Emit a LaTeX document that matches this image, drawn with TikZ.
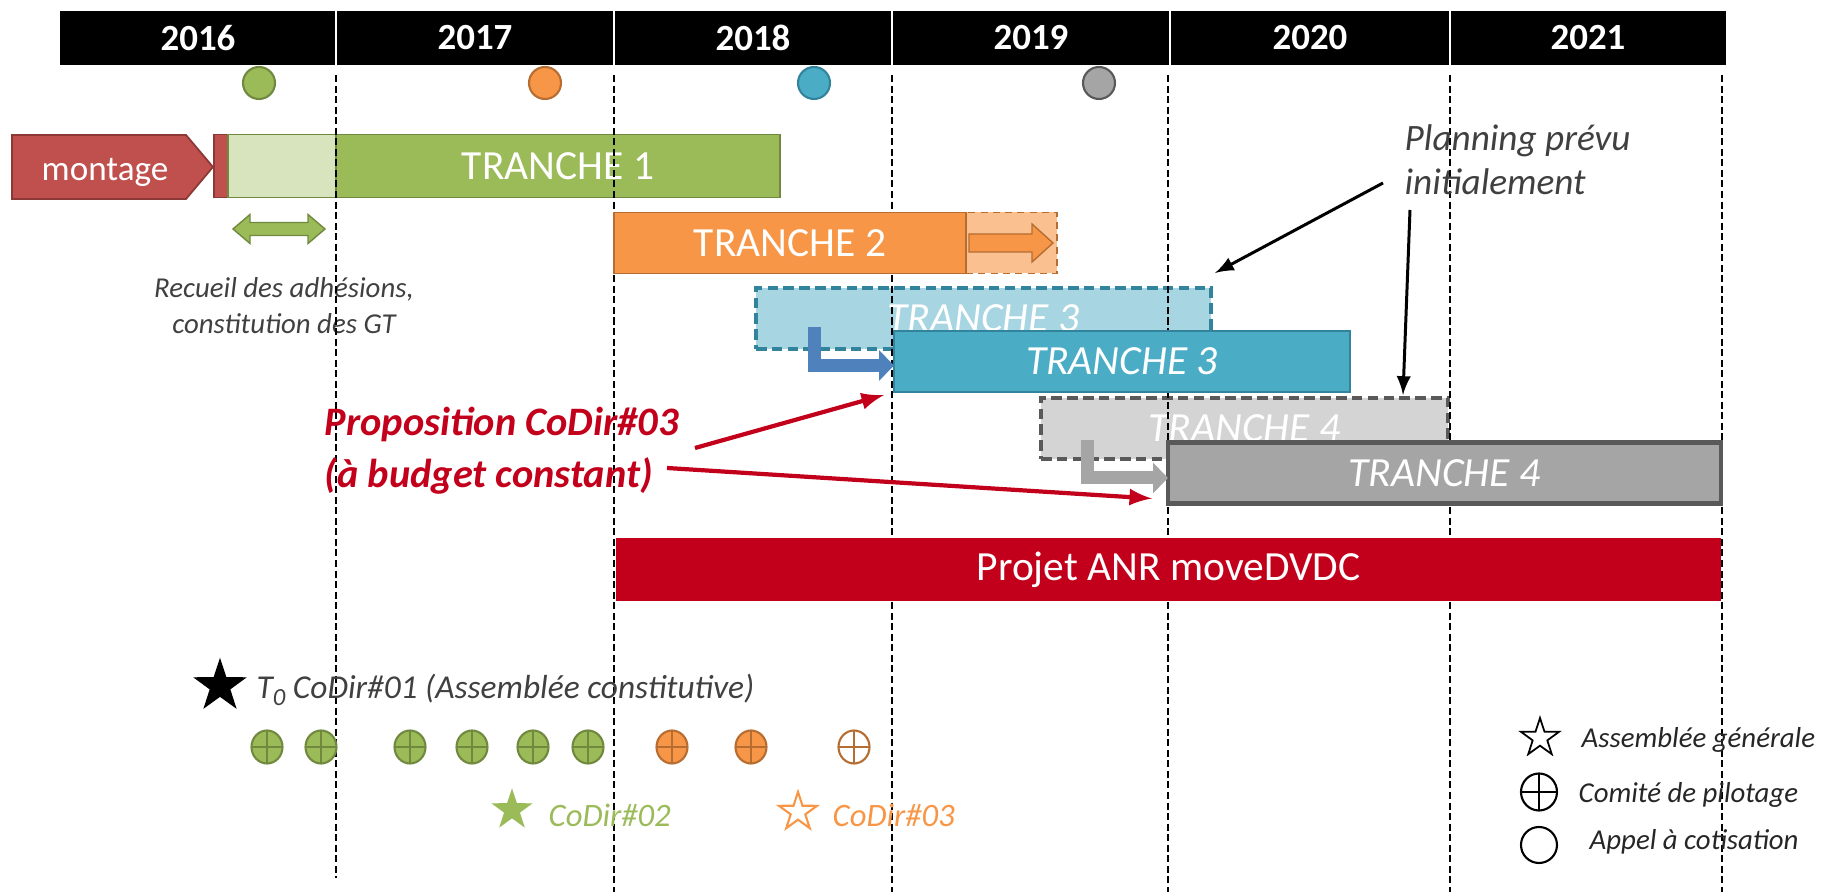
\documentclass[tikz,border=0pt]{standalone}
\usepackage{fontspec}
\setmainfont{Carlito}
\usetikzlibrary{calc,arrows,arrows.meta,shapes.geometric}

\definecolor{rouge}{HTML}{C0504D}
\definecolor{rougefonce}{HTML}{8C3836}
\definecolor{vert}{HTML}{9BBB59}
\definecolor{vertfonce}{HTML}{71893F}
\definecolor{vertclair}{HTML}{D7E4BD}
\definecolor{orangeT}{HTML}{F79646}
\definecolor{orangefonce}{HTML}{B66D31}
\definecolor{orangeclair}{HTML}{FAC090}
\definecolor{bleuT}{HTML}{4BACC6}
\definecolor{bleufonce}{HTML}{31849B}
\definecolor{bleuclair}{HTML}{A8D5E2}
\definecolor{bleuf}{HTML}{4F81BD}
\definecolor{gris}{HTML}{A5A5A5}
\definecolor{grisfonce}{HTML}{595959}
\definecolor{grisclair}{HTML}{D4D4D4}
\definecolor{anr}{HTML}{C3001B}
\definecolor{texte}{HTML}{404040}

\begin{document}
\begin{tikzpicture}[>=latex, x=0.1mm, y=-0.1mm,
    bar/.style={draw, line width=0.5pt, inner sep=0pt, outer sep=0pt, minimum height=6.1mm,
        text=white, font=\fontsize{11.8}{14}\selectfont},
    plan/.style={bar, dash pattern=on 3pt off 1.5pt, line width=0.9pt,
        font=\fontsize{11.8}{14}\itshape\selectfont},
    appel/.style={circle, draw, line width=0.6pt, minimum size=3.2mm, inner sep=0pt},
    pilot/.style 2 args={ellipse, fill=#1, draw=#2, line width=0.6pt, minimum width=3.1mm,
        minimum height=3.3mm, inner sep=0pt,
        path picture={\draw[#2, line width=0.6pt]
            (path picture bounding box.north) -- (path picture bounding box.south)
            (path picture bounding box.west) -- (path picture bounding box.east);}},
    etoile/.style={star, star points=5, star point ratio=2.6, inner sep=0pt, draw},
    note/.style={inner sep=0pt, text=texte, font=\fontsize{8.2}{10.2}\itshape\selectfont},
    bent/.style={line width=1.3mm, line join=miter, -{Triangle[length=1.5mm,width=3mm]}},
    annee/.style={text=white, font=\fontsize{10.5}{12}\bfseries\selectfont}]

    \useasboundingbox (0,0) rectangle (1836,892);

    \fill[black] (60,11) rectangle (1726,65);
    \foreach \x in {336,614,892,1170,1450}
        \draw[white, line width=0.6pt] (\x,11) -- (\x,65);
    \foreach \an/\x in {2016/198,2017/475,2018/753,2019/1031,2020/1310,2021/1588}
        \node[annee] (y\an) at (\x,38) {\an};

    \node[appel, fill=vert, draw=vertfonce] (c16) at (259,83) {};
    \node[appel, fill=orangeT, draw=orangefonce] (c17) at (545,83) {};
    \node[appel, fill=bleuT, draw=bleufonce] (c18) at (814,83) {};
    \node[appel, fill=gris, draw=grisfonce] (c19) at (1099,83) {};

    \draw[fill=rouge, draw=rougefonce, line width=0.5pt]
        (12,135) -- (186,135) -- (213,167) -- (186,199) -- (12,199) -- cycle;
    \node[anchor=base, text=white, font=\fontsize{10}{12}\selectfont] (montage) at (105,181) {montage};
    \node[bar, fill=rouge, draw=rougefonce, minimum width=1.4mm, minimum height=6.3mm] (debut) at (221,166) {};
    \node[bar, fill=vertclair, draw=vertfonce, minimum width=10.8mm, minimum height=6.3mm] (t1a) at (282,166) {};
    \node[bar, fill=vert, draw=vertfonce, minimum width=44.4mm, minimum height=6.3mm] (t1) at (558,166) {TRANCHE 1};

    \draw[fill=vert, draw=vertfonce, line width=0.4pt]
        (233,229) -- (250,214.5) -- (250,222.5) -- (308,222.5) -- (308,214.5) -- (325,229)
        -- (308,243.5) -- (308,235.5) -- (250,235.5) -- (250,243.5) -- cycle;
    \node[note, align=center] (recueil) at (284,306) {Recueil des adhésions,\\constitution des GT};

    \node[plan, fill=bleuclair, draw=bleufonce, minimum width=45.5mm] (t3p) at (983.5,318.5) {TRANCHE 3};
    \node[plan, fill=grisclair, draw=grisfonce, minimum width=40.7mm] (t4p) at (1244.5,428.5) {TRANCHE 4};

    \draw[dash pattern=on 2pt off 1pt, line width=0.55pt] (336,75) -- (336,878);
    \foreach \x in {614,892,1168,1450,1722}
        \draw[dash pattern=on 2pt off 1pt, line width=0.55pt] (\x,75) -- (\x,892);

    \node[bar, fill=orangeclair, draw=orangefonce, dash pattern=on 2pt off 1.5pt, minimum width=9.1mm] (t2x) at (1011.5,243) {};
    \node[bar, fill=orangeT, draw=orangefonce, minimum width=35.2mm] (t2) at (790,243) {TRANCHE 2};
    \draw[fill=orangeT, draw=orangefonce, line width=0.4pt]
        (969,234) -- (1032,234) -- (1032,224) -- (1053,243) -- (1032,262) -- (1032,252) -- (969,252) -- cycle;

    \node[bar, fill=bleuT, draw=bleufonce, line width=0.8pt, minimum width=45.6mm,
        font=\fontsize{11.8}{14}\itshape\selectfont] (t3) at (1122,361.5) {TRANCHE 3};
    \node[bar, fill=gris, draw=grisfonce, line width=1.2pt, minimum width=55.3mm,
        font=\fontsize{11.8}{14}\itshape\selectfont] (t4) at (1444.5,473) {TRANCHE 4};
    \node[bar, fill=anr, draw=anr, minimum width=110.3mm] (anr) at (1168.5,569.5) {Projet ANR moveDVDC};

    \coordinate (b3) at (814,327);
    \draw[bent, bleuf] (b3) |- ($(t3.west)+(0,4)$);
    \coordinate (b4) at (1087,440);
    \draw[bent, gris] (b4) |- ($(t4.west)+(0,5)$);

    \node[anchor=west, inner sep=0pt, align=left, text=anr,
        font=\fontsize{11.5}{14.8}\bfseries\itshape\selectfont] (prop) at (324,451)
        {Proposition CoDir\#03\\(à budget constant)};
    \coordinate (r1) at (695,448);
    \coordinate (r2) at (667,468);
    \draw[->, anr, line width=1.2pt] (r1) -- ($(t3.south west)+(-10,3)$);
    \draw[->, anr, line width=1.2pt] (r2) -- ($(t4.south west)+(-16,-5)$);

    \node[anchor=west, inner sep=0pt, align=left, text=texte,
        font=\fontsize{10.6}{12.5}\itshape\selectfont] (planning) at (1404,160)
        {Planning prévu\\initialement};
    \coordinate (p1) at (1383,183);
    \coordinate (p2) at (1410,210);
    \draw[->, line width=0.85pt] (p1) -- ($(t3p.north east)+(4,-15)$);
    \draw[->, line width=0.85pt] (p2) -- ($(t4p.north east)+(-45,-3)$);

    \node[etoile, fill=black, minimum size=5.2mm] (ag0) at (220,686) {};
    \node[note, anchor=west, font=\fontsize{9.5}{11}\itshape\selectfont] (codir1) at (256,690)
        {T\raisebox{-0.4ex}{\fontsize{7}{8}\selectfont 0} CoDir\#01 (Assemblée constitutive)};

    \foreach \x in {267,321,410,472,533,588}
        \node[pilot={vert}{vertfonce}] (cp\x) at (\x,747) {};
    \foreach \x in {672,751}
        \node[pilot={orangeT}{orangefonce}] (cp\x) at (\x,747) {};
    \node[pilot={white}{orangefonce}] (cp854) at (854,747) {};

    \node[etoile, fill=vert, draw=vert, minimum size=3.9mm] (ag2) at (512,810) {};
    \node[note, anchor=west, text=vert, font=\fontsize{9.3}{11}\itshape\selectfont] (codir2) at (548,815) {CoDir\#02};
    \node[etoile, fill=white, draw=orangeT, line width=0.6pt, minimum size=4mm] (ag3) at (798,812) {};
    \node[note, anchor=west, text=orangeT, font=\fontsize{9.3}{11}\itshape\selectfont] (codir3) at (832,815) {CoDir\#03};

    \node[etoile, fill=white, draw=black, line width=0.5pt, minimum size=4mm] (lag) at (1540,738) {};
    \node[note, anchor=west, text=black!85] (tag) at (1581,740) {Assemblée générale};
    \node[pilot={white}{black}, minimum width=3.6mm, minimum height=3.7mm] (lcp) at (1539,792) {};
    \node[note, anchor=west, text=black!85] (tcp) at (1578,795) {Comité de pilotage};
    \node[appel, fill=white, draw=black, minimum size=3.6mm] (lap) at (1539,845) {};
    \node[note, anchor=west, text=black!85] (tap) at (1589,842) {Appel à cotisation};
\end{tikzpicture}
\end{document}
